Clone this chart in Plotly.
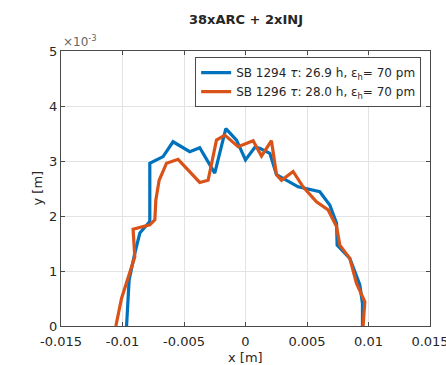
import plotly.graph_objects as go

# SB 1294 (blue) profile, x and y in metres
x_1294 = [-0.00967, -0.00946, -0.00900, -0.00859, -0.00778, -0.00778, -0.00778, -0.00670, -0.00589,
          -0.00453, -0.00372, -0.00250, -0.00160, -0.00073, 0.00000, 0.00076, 0.00116, 0.00198,
          0.00252, 0.00428, 0.00496, 0.00604, 0.00685, 0.00740, 0.00745, 0.00848, 0.00929,
          0.00951, 0.00951]
y_1294 = [0.0, 0.00084, 0.00132, 0.00169, 0.00190, 0.00229, 0.00296, 0.00308, 0.00335,
          0.00317, 0.00324, 0.00278, 0.00359, 0.00338, 0.00302, 0.00325, 0.00323, 0.00314,
          0.00275, 0.00253, 0.00250, 0.00244, 0.00220, 0.00187, 0.00147, 0.00123, 0.00075,
          0.00041, 0.0]

# SB 1296 (orange) profile
x_1296 = [-0.01054, -0.01008, -0.00900, -0.00914, -0.00778, -0.00737, -0.00729, -0.00702, -0.00642,
          -0.00548, -0.00372, -0.00304, -0.00236, -0.00168, -0.00060, 0.00062, 0.00130, 0.00211,
          0.00252, 0.00293, 0.00387, 0.00468, 0.00577, 0.00672, 0.00740, 0.00767, 0.00848,
          0.00902, 0.00970, 0.00956]
y_1296 = [0.0, 0.00050, 0.00126, 0.00176, 0.00184, 0.00193, 0.00229, 0.00265, 0.00296,
          0.00303, 0.00261, 0.00265, 0.00338, 0.00347, 0.00326, 0.00337, 0.00309, 0.00337,
          0.00275, 0.00265, 0.00281, 0.00253, 0.00226, 0.00211, 0.00181, 0.00147, 0.00123,
          0.00078, 0.00044, 0.0]

names = ["SB 1294 <i>τ</i>: 26.9 h, ε<sub>h</sub>= 70 pm",
         "SB 1296 <i>τ</i>: 28.0 h, ε<sub>h</sub>= 70 pm"]
colors = ["#0072BD", "#D95319"]

x_ticks = [-0.015, -0.01, -0.005, 0, 0.005, 0.01, 0.015]
x_ticktext = ["-0.015", "-0.01", "-0.005", "0", "0.005", "0.01", "0.015"]
y_ticks = [0, 0.001, 0.002, 0.003, 0.004, 0.005]
y_ticktext = ["0", "1", "2", "3", "4", "5"]

title = "38xARC + 2xINJ"
font = "DejaVu Sans"
axcol = "#4a4a4a"
txtcol = "#262626"

fig = go.Figure()
for xs, ys, nm, c in [(x_1294, y_1294, names[0], colors[0]), (x_1296, y_1296, names[1], colors[1])]:
    fig.add_trace(go.Scatter(x=xs, y=ys, mode="lines", name=nm,
                             line=dict(color=c, width=3.2)))

axis_common = dict(showline=True, linecolor=axcol, linewidth=1, mirror="ticks",
                   ticks="inside", ticklen=4, tickcolor=axcol,
                   showgrid=True, gridcolor="#e3e3e3", gridwidth=1, zeroline=False,
                   ticklabeloverflow="allow", automargin=False,
                   tickfont=dict(family=font, size=13, color=txtcol))

fig.update_layout(
    width=446, height=365,
    margin=dict(l=61, r=16, t=51, b=39),
    paper_bgcolor="white", plot_bgcolor="white",
    font=dict(family=font, color=txtcol),
    showlegend=True,
    legend=dict(x=0.976, y=0.978, xanchor="right", yanchor="top",
                bgcolor="white", bordercolor=axcol, borderwidth=1,
                font=dict(family=font, size=12, color=txtcol),
                tracegroupgap=0, itemwidth=30),
    xaxis=dict(range=[-0.015, 0.015], tickvals=x_ticks, ticktext=x_ticktext,
               ticklabelstandoff=3, **axis_common),
    yaxis=dict(range=[0, 0.005], tickvals=y_ticks, ticktext=y_ticktext, **axis_common),
    annotations=[
        dict(text="<b>" + title + "</b>", x=0.5, y=1, xref="paper", yref="paper",
             xanchor="center", yanchor="bottom", yshift=22, showarrow=False,
             font=dict(family=font, size=13, color=txtcol)),
        dict(text="×10<sup>-3</sup>", x=0, y=1, xref="paper", yref="paper",
             xanchor="left", yanchor="bottom", xshift=0, yshift=0, showarrow=False,
             font=dict(family=font, size=12, color="#666666")),
        dict(text="y [m]", x=0, y=0.5, xref="paper", yref="paper", textangle=-90,
             xanchor="center", yanchor="middle", xshift=-24, showarrow=False,
             font=dict(family=font, size=13, color=txtcol)),
        dict(text="x [m]", x=0.5, y=0, xref="paper", yref="paper",
             xanchor="center", yanchor="top", yshift=-22, showarrow=False,
             font=dict(family=font, size=13, color=txtcol)),
    ],
)

fig.write_html("out.html")
